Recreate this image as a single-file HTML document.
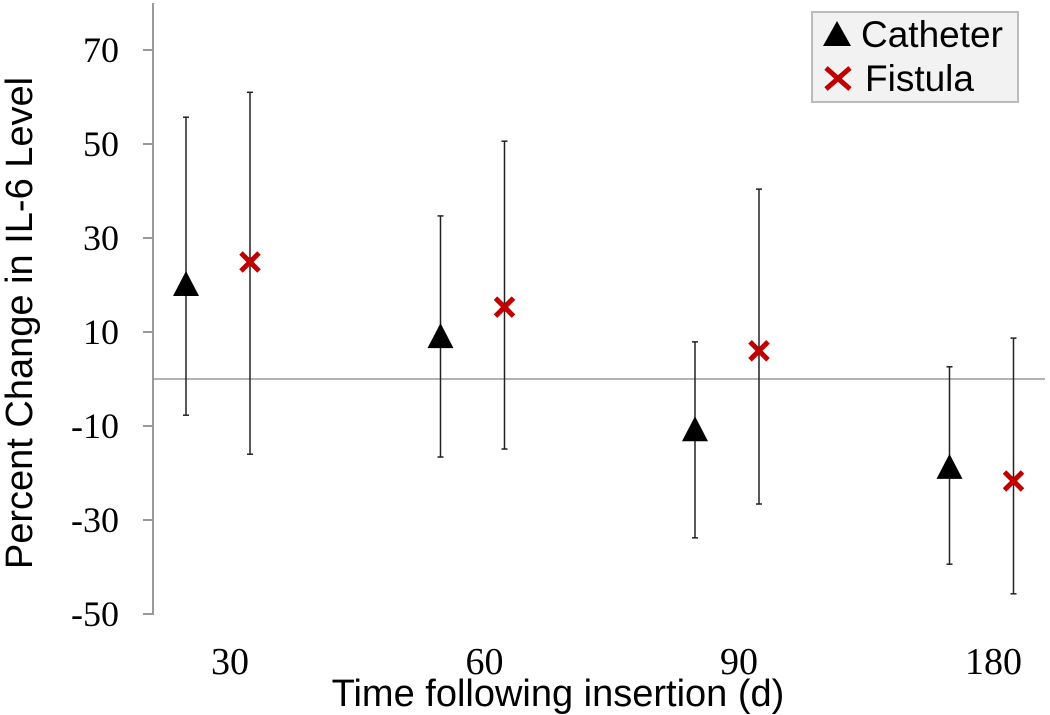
<!DOCTYPE html>
<html><head><meta charset="utf-8"><style>
html,body{margin:0;padding:0;background:#fff}
svg{display:block}
</style></head><body>
<svg id="chart" width="1050" height="715" xmlns="http://www.w3.org/2000/svg">
<rect width="1050" height="715" fill="#fff"/>
<g id="axes"></g>
<g id="marks"></g>
<text transform="translate(32,323) rotate(-90)" text-anchor="middle" font-family="Liberation Sans, sans-serif" font-size="38" fill="#000">Percent Change in IL-6 Level</text>
<text x="558" y="706" text-anchor="middle" font-family="Liberation Sans, sans-serif" font-size="38" fill="#000">Time following insertion (d)</text>
<g>
<rect x="812" y="12" width="206" height="90" fill="#f2f2f2" stroke="#bbb" stroke-width="2"/>
<polygon points="837,21 851,46 823,46" fill="#000"/>
<text x="861" y="47" font-family="Liberation Sans, sans-serif" font-size="37">Catheter</text>
<g stroke="#c00000" stroke-width="5"><line x1="826" y1="68" x2="850" y2="89"/><line x1="850" y1="68" x2="826" y2="89"/></g>
<text x="865" y="91" font-family="Liberation Sans, sans-serif" font-size="37">Fistula</text>
</g>
</svg>
<script>
const categories = ["30","60","90","180"];
const catheterMean = [20, 8.9, -10.9, -18.9];
const catheterHigh = [55.7, 34.7, 7.9, 2.6];
const catheterLow = [-7.7, -16.6, -33.8, -39.4];
const fistulaMean = [24.9, 15.3, 6, -21.7];
const fistulaHigh = [61, 50.6, 40.4, 8.7];
const fistulaLow = [-16, -14.9, -26.6, -45.7];
const yTicks = [70, 50, 30, 10, -10, -30, -50];

const NS = "http://www.w3.org/2000/svg";
function y(v){ return 379 - v * 4.7; }
function xc(i){ return 218 + i * 254.5; }
function mk(tag, attrs, parent){
  const e = document.createElementNS(NS, tag);
  for (const k in attrs) e.setAttribute(k, attrs[k]);
  parent.appendChild(e); return e;
}
const axes = document.getElementById('axes');
const marks = document.getElementById('marks');
let el = mk('line',{x1:153,y1:3,x2:153,y2:615,stroke:'#999','stroke-width':2},axes);


el = mk('line',{x1:153,y1:y(0),x2:1045,y2:y(0),stroke:'#999','stroke-width':1.5},axes);


yTicks.forEach(t=>{
  const tk = mk('line',{x1:143,y1:y(t),x2:153,y2:y(t),stroke:'#999','stroke-width':2},axes);
  
  
  const tx = mk('text',{x:119,y:y(t)+12,'text-anchor':'end','font-family':'Liberation Serif, serif','font-size':36},axes);
  tx.textContent = t;
  
  
});
categories.forEach((c,i)=>{
  const tx = mk('text',{x:xc(i)+12,y:674,'text-anchor':'middle','font-family':'Liberation Serif, serif','font-size':38},axes);
  tx.textContent = c;
  
  
});
function errbar(x, lo, hi, name){
  const g = mk('g',{stroke:'#222','stroke-width':1.5},marks);
  
  
  mk('line',{x1:x,y1:y(hi),x2:x,y2:y(lo)},g);
  mk('line',{x1:x-3,y1:y(hi),x2:x+3,y2:y(hi)},g);
  mk('line',{x1:x-3,y1:y(lo),x2:x+3,y2:y(lo)},g);
}
categories.forEach((c,i)=>{
  const xa = xc(i) - 32, xb = xc(i) + 32;
  errbar(xa, catheterLow[i], catheterHigh[i], 'catheter-errorbar');
  errbar(xb, fistulaLow[i], fistulaHigh[i], 'fistula-errorbar');
  const yy = y(catheterMean[i]);
  const tri = mk('polygon',{points:`${xa},${yy-14} ${xa+13},${yy+11} ${xa-13},${yy+11}`,fill:'#000'},marks);
  
  
  const fy = y(fistulaMean[i]);
  const g = mk('g',{stroke:'#c00000','stroke-width':5},marks);
  
  
  mk('line',{x1:xb-9,y1:fy-9,x2:xb+9,y2:fy+9},g);
  mk('line',{x1:xb+9,y1:fy-9,x2:xb-9,y2:fy+9},g);
});
</script>
</body></html>
